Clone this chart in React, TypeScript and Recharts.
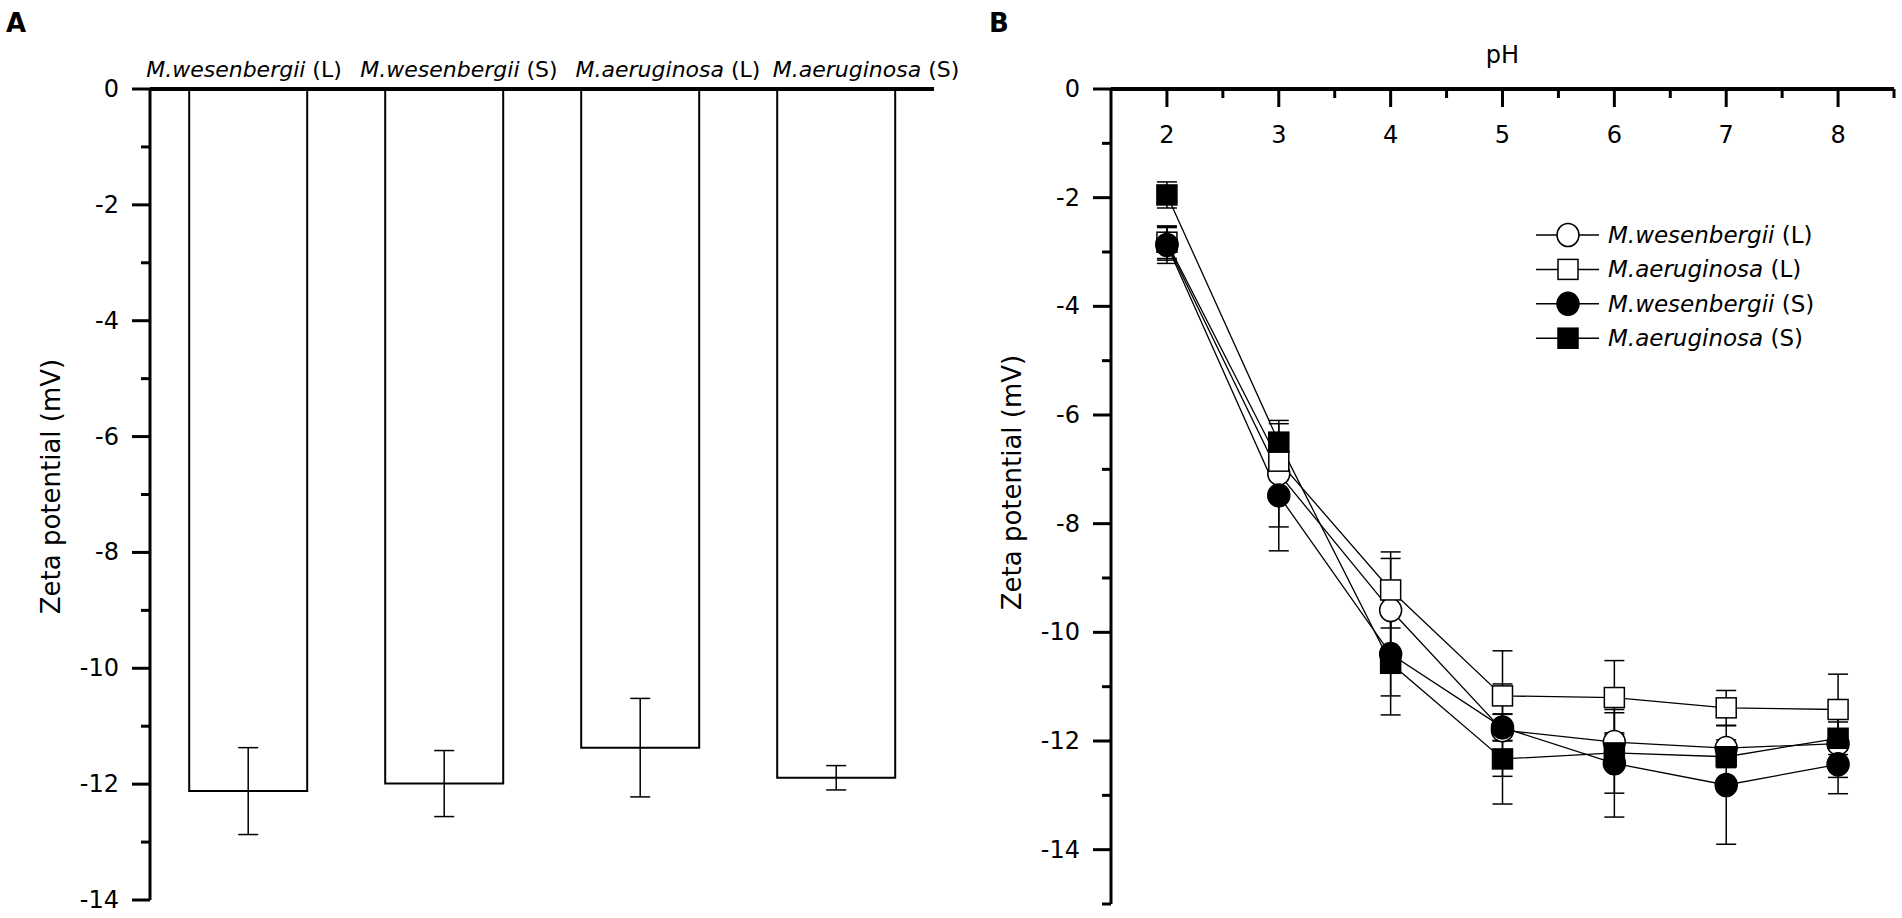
import React from "react";
import {
  BarChart,
  Bar,
  LineChart,
  Line,
  XAxis,
  YAxis,
  ErrorBar,
  Legend,
} from "recharts";

const FONT = "'DejaVu Sans', sans-serif";

// Panel A: zeta potential of each strain
const categoryNames = ["M.wesenbergii", "M.wesenbergii", "M.aeruginosa", "M.aeruginosa"];
const categorySuffixes = ["(L)", "(S)", "(L)", "(S)"];
const barValues = [-12.12, -11.99, -11.37, -11.89];
const barErrors = [0.75, 0.57, 0.85, 0.21];
const zetaTicksA = [0, -1, -2, -3, -4, -5, -6, -7, -8, -9, -10, -11, -12, -13, -14];

// Panel B: zeta potential vs pH
const phValues = [2, 3, 4, 5, 6, 7, 8];
const phTicks = [2, 2.5, 3, 3.5, 4, 4.5, 5, 5.5, 6, 6.5, 7, 7.5, 8, 8.5];
const zetaTicksB = [0, -1, -2, -3, -4, -5, -6, -7, -8, -9, -10, -11, -12, -13, -14, -15];

const wesL = [-2.85, -7.08, -9.59, -11.8, -12.02, -12.13, -12.05];
const wesLErr = [0.3, 0.98, 0.95, 0.85, 0.17, 0.15, 0.62];
const aerL = [-2.82, -6.85, -9.22, -11.17, -11.2, -11.39, -11.42];
const aerLErr = [0.3, 0.3, 0.7, 0.83, 0.68, 0.32, 0.65];
const wesS = [-2.87, -7.48, -10.4, -11.75, -12.41, -12.81, -12.43];
const wesSErr = [0.34, 1.02, 0.77, 0.24, 0.99, 1.09, 0.54];
const aerS = [-1.95, -6.5, -10.57, -12.33, -12.22, -12.29, -11.95];
const aerSErr = [0.24, 0.34, 0.95, 0.83, 0.74, 0.2, 0.3];

const seriesB = [
  { key: "wesL", name: "M.wesenbergii", suffix: "(L)", shape: "circle", filled: false },
  { key: "aerL", name: "M.aeruginosa", suffix: "(L)", shape: "square", filled: false },
  { key: "wesS", name: "M.wesenbergii", suffix: "(S)", shape: "circle", filled: true },
  { key: "aerS", name: "M.aeruginosa", suffix: "(S)", shape: "square", filled: true },
];

// the strain names above panel A are not quite centred on their bars
const labelShift = [-4, 15, 28, 30];

const barData = categoryNames.map((n, i) => ({
  label: `${n} ${categorySuffixes[i]}`,
  value: barValues[i],
  err: barErrors[i],
}));

const lineData = phValues.map((ph, i) => ({
  ph,
  wesL: wesL[i],
  wesLErr: wesLErr[i],
  aerL: aerL[i],
  aerLErr: aerLErr[i],
  wesS: wesS[i],
  wesSErr: wesSErr[i],
  aerS: aerS[i],
  aerSErr: aerSErr[i],
}));

// y ticks pointing left, labels on even values
function ZetaTick(props: any) {
  const { x, y, payload } = props;
  const major = payload.value % 2 === 0;
  const len = major ? 18 : 9;
  return (
    <g>
      <line x1={x} y1={y} x2={x - len} y2={y} stroke="#000" strokeWidth={3} />
      {major && (
        <text
          x={x - 31}
          y={y}
          textAnchor="end"
          dominantBaseline="central"
          fontSize={24}
          fontFamily={FONT}
          fill="#000"
        >
          {payload.value}
        </text>
      )}
    </g>
  );
}

function CategoryTick(props: any) {
  const { x, y, index } = props;
  return (
    <text
      x={x + labelShift[index]}
      y={y - 12}
      textAnchor="middle"
      fontSize={22}
      fontFamily={FONT}
      fill="#000"
    >
      <tspan fontStyle="italic">{categoryNames[index]}</tspan>
      <tspan>{" " + categorySuffixes[index]}</tspan>
    </text>
  );
}

// pH ticks point down into the plot, labels below them
function PhTick(props: any) {
  const { x, y, payload } = props;
  const major = Number.isInteger(payload.value);
  return (
    <g>
      <line x1={x} y1={y} x2={x} y2={y + (major ? 18 : 9)} stroke="#000" strokeWidth={3} />
      {major && (
        <text x={x} y={y + 54} textAnchor="middle" fontSize={24} fontFamily={FONT} fill="#000">
          {payload.value}
        </text>
      )}
    </g>
  );
}

function Marker({ cx, cy, shape, filled }: any) {
  if (cx == null || cy == null) return null;
  const fill = filled ? "#000" : "#fff";
  if (shape === "circle") {
    return <ellipse cx={cx} cy={cy} rx={11} ry={11.5} fill={fill} stroke="#000" strokeWidth={1.5} />;
  }
  return <rect x={cx - 10} y={cy - 10} width={20} height={20} fill={fill} stroke="#000" strokeWidth={1.5} />;
}

function zetaTitle(dy: number) {
  return (p: any) => {
    const vb = p.viewBox;
    const cx = vb.x + vb.width - 99;
    const cy = vb.y + vb.height / 2 + dy;
    return (
      <text
        x={cx}
        y={cy}
        transform={`rotate(-90 ${cx} ${cy})`}
        textAnchor="middle"
        dominantBaseline="central"
        fontSize={26}
        fontFamily={FONT}
        fill="#000"
      >
        Zeta potential (mV)
      </text>
    );
  };
}

function LegendBox() {
  return (
    <svg width={330} height={150} style={{ display: "block" }}>
      {seriesB.map((s, i) => {
        const cy = 17 + i * 34.4;
        return (
          <g key={s.key}>
            <line x1={0} y1={cy} x2={63} y2={cy} stroke="#000" strokeWidth={1.5} />
            <Marker cx={32} cy={cy} shape={s.shape} filled={s.filled} />
            <text x={72} y={cy} dominantBaseline="central" fontSize={23} fontFamily={FONT} fill="#000">
              <tspan fontStyle="italic">{s.name}</tspan>
              <tspan>{" " + s.suffix}</tspan>
            </text>
          </g>
        );
      })}
    </svg>
  );
}

const panelLabel: React.CSSProperties = {
  position: "absolute",
  top: 8,
  fontFamily: FONT,
  fontWeight: "bold",
  fontSize: 26,
  lineHeight: "30px",
};

export default function App() {
  return (
    <div style={{ position: "absolute", left: 0, top: 0, width: 1902, height: 918, background: "#fff" }}>
      <div style={{ ...panelLabel, left: 6 }}>A</div>
      <div style={{ ...panelLabel, left: 989 }}>B</div>

      <div style={{ position: "absolute", left: 0, top: 0 }}>
        <BarChart
          width={960}
          height={918}
          data={barData}
          margin={{ top: 59, right: 26, bottom: 18, left: 90 }}
          barCategoryGap="20%"
        >
          <XAxis
            dataKey="label"
            orientation="top"
            height={30}
            interval={0}
            tickLine={false}
            tickSize={0}
            tickMargin={0}
            axisLine={{ stroke: "#000", strokeWidth: 4 }}
            tick={<CategoryTick />}
          />
          <YAxis
            type="number"
            domain={[-14, 0]}
            ticks={zetaTicksA}
            interval={0}
            width={60}
            tickLine={false}
            tickSize={0}
            tickMargin={0}
            axisLine={{ stroke: "#000", strokeWidth: 3 }}
            tick={<ZetaTick />}
            label={{ content: zetaTitle(-8) }}
          />
          <Bar dataKey="value" fill="#fff" stroke="#000" strokeWidth={2} isAnimationActive={false}>
            <ErrorBar dataKey="err" width={10} stroke="#000" strokeWidth={1.5} direction="y" />
          </Bar>
        </BarChart>
      </div>

      <div style={{ position: "absolute", left: 960, top: 0 }}>
        <LineChart
          width={942}
          height={918}
          data={lineData}
          margin={{ top: 59, right: 8, bottom: 14, left: 91 }}
        >
          <XAxis
            dataKey="ph"
            type="number"
            domain={[1.5, 8.5]}
            ticks={phTicks}
            orientation="top"
            height={30}
            interval={0}
            tickLine={false}
            tickSize={0}
            tickMargin={0}
            axisLine={{ stroke: "#000", strokeWidth: 4 }}
            tick={<PhTick />}
            label={{
              content: (p: any) => (
                <text
                  x={p.viewBox.x + p.viewBox.width / 2}
                  y={63}
                  textAnchor="middle"
                  fontSize={24}
                  fontFamily={FONT}
                  fill="#000"
                >
                  pH
                </text>
              ),
            }}
          />
          <YAxis
            type="number"
            domain={[-15, 0]}
            ticks={zetaTicksB}
            interval={0}
            width={60}
            tickLine={false}
            tickSize={0}
            tickMargin={0}
            axisLine={{ stroke: "#000", strokeWidth: 3 }}
            tick={<ZetaTick />}
            label={{ content: zetaTitle(-14) }}
          />
          <Legend
            layout="vertical"
            align="center"
            verticalAlign="middle"
            content={() => <LegendBox />}
            wrapperStyle={{ position: "absolute", left: 576, top: 218, width: 330, height: 150 }}
          />
          {seriesB.map((s) => (
            <Line
              key={s.key}
              dataKey={s.key}
              name={`${s.name} ${s.suffix}`}
              type="linear"
              stroke="#000"
              strokeWidth={1.3}
              isAnimationActive={false}
              dot={(p: any) => (
                <Marker key={`${s.key}-${p.index}`} cx={p.cx} cy={p.cy} shape={s.shape} filled={s.filled} />
              )}
              activeDot={false}
            >
              <ErrorBar dataKey={`${s.key}Err`} width={10} stroke="#000" strokeWidth={1.5} direction="y" />
            </Line>
          ))}
        </LineChart>
      </div>
    </div>
  );
}
